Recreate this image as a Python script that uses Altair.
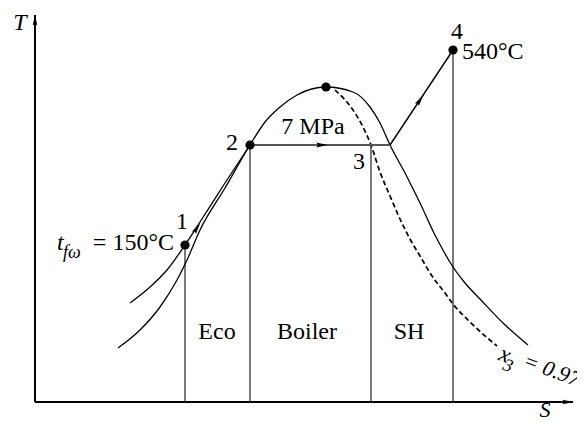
import altair as alt
import pandas as pd

# ---- data (S, T in arbitrary diagram units) ----
dome_S = [83, 105, 125, 142, 152, 165, 190, 215, 230, 245, 262, 291, 318, 335, 345, 355, 370, 385, 400, 418, 430, 445, 468, 493]
dome_T = [54, 72, 95, 122, 142, 172, 214, 257, 280, 295, 307, 315, 310, 295, 279, 257, 229, 199, 167, 135, 119, 103, 79, 57]

liq_S = [95, 115, 132, 150, 165, 190, 215]
liq_T = [99, 115, 132, 157, 180, 219, 257]

x3_S = [300, 318, 328, 336, 345, 355, 365, 375, 385, 397, 410, 418, 435, 462]
x3_T = [312, 292, 275, 257, 230, 206, 183, 163, 146, 126, 109, 98, 80, 56]

iso_S = [215, 355]
iso_T = [257, 257]
sh_S = [355, 418]
sh_T = [257, 352]

vert_S = [150, 215, 336, 418]
vert_top = [157, 257, 257, 352]

state_S = [150, 215, 291, 418]
state_T = [157, 257, 315, 352]

arrow_S = [162, 287, 385]
arrow_T = [174, 257, 302]
arrow_ang = [33, 90, 34]

axis_S = [0, 538]
axis_T = [0, 387]

num_labels = ["1", "2", "3", "4"]
num_S = [147, 197, 324, 422]
num_T = [180, 259, 240, 370]

zone_labels = ["Eco", "Boiler", "SH"]
zone_S = [182, 272, 374]
zone_T = [70, 70, 70]

FONT = "Liberation Serif"
FS = 24
FS_SUB = 18

xs = alt.Scale(domain=[-27, 542], nice=False, zero=False)
ys = alt.Scale(domain=[-16, 394], nice=False, zero=False)


def X(f="S"):
    return alt.X(f"{f}:Q", scale=xs, axis=None)


def Y(f="T"):
    return alt.Y(f"{f}:Q", scale=ys, axis=None)


def line(S, T, **kw):
    df = pd.DataFrame({"S": S, "T": T, "o": range(len(S))})
    return alt.Chart(df).mark_line(**kw).encode(x=X(), y=Y(), order="o:Q")


layers = []

# axes
ax_df = pd.DataFrame({"S": [0, 0], "T": [0, 0], "S2": [axis_S[1], 0], "T2": [0, axis_T[1]]})
layers.append(alt.Chart(ax_df).mark_rule(color="black", strokeWidth=2).encode(
    x=X(), y=Y(), x2="S2:Q", y2="T2:Q"))

arrowhead = "M0,-1L0.42,1L0,0.7L-0.42,1Z"
axarr = pd.DataFrame({"S": [0, axis_S[1] - 5], "T": [axis_T[1] - 5, 0], "a": [0, 90]})
layers.append(alt.Chart(axarr).mark_point(shape=arrowhead, filled=True, color="black",
                                           opacity=1, size=120, strokeWidth=0).encode(
    x=X(), y=Y(), angle=alt.Angle("a:Q", scale=None)))

# vertical lines
vdf = pd.DataFrame({"S": vert_S, "T": [0] * 4, "T2": vert_top})
layers.append(alt.Chart(vdf).mark_rule(color="#222", strokeWidth=1.2).encode(
    x=X(), y=Y(), y2="T2:Q"))

# curves
layers.append(line(dome_S, dome_T, color="black", strokeWidth=1.3, interpolate="monotone"))
layers.append(line(liq_S, liq_T, color="black", strokeWidth=1.3, interpolate="monotone"))
layers.append(line(x3_S, x3_T, color="black", strokeWidth=1.7, strokeDash=[5, 3], interpolate="monotone"))
layers.append(line(iso_S, iso_T, color="#555", strokeWidth=2))
layers.append(line(sh_S, sh_T, color="black", strokeWidth=1.4))

# flow arrows
adf = pd.DataFrame({"S": arrow_S, "T": arrow_T, "a": arrow_ang})
layers.append(alt.Chart(adf).mark_point(shape=arrowhead, filled=True, color="black",
                                         opacity=1, size=130, strokeWidth=0).encode(
    x=X(), y=Y(), angle=alt.Angle("a:Q", scale=None)))

# state points
pdf = pd.DataFrame({"S": state_S, "T": state_T})
layers.append(alt.Chart(pdf).mark_circle(color="black", opacity=1, size=85).encode(x=X(), y=Y()))


def text(df, **kw):
    base = dict(font=FONT, fontSize=FS, color="black", baseline="middle")
    base.update(kw)
    return alt.Chart(df).mark_text(**base).encode(x=X(), y=Y(), text="label:N")


layers.append(text(pd.DataFrame({"label": num_labels, "S": num_S, "T": num_T})))
layers.append(text(pd.DataFrame({"label": zone_labels, "S": zone_S, "T": zone_T})))
layers.append(text(pd.DataFrame({"label": ["7 MPa"], "S": [278], "T": [275]})))
layers.append(text(pd.DataFrame({"label": ["540°C"], "S": [427], "T": [350]}), align="left"))
layers.append(text(pd.DataFrame({"label": ["= 150°C"], "S": [139], "T": [159]}), align="right"))
layers.append(text(pd.DataFrame({"label": ["t"], "S": [22], "T": [159]}), fontStyle="italic", align="left"))
layers.append(text(pd.DataFrame({"label": ["fω"], "S": [28], "T": [149]}), fontStyle="italic",
                   fontSize=FS_SUB, align="left"))
layers.append(text(pd.DataFrame({"label": ["T"], "S": [-15], "T": [379]}), fontStyle="italic"))
layers.append(text(pd.DataFrame({"label": ["S"], "S": [510], "T": [-8]}), fontStyle="italic", fontSize=22))
layers.append(text(pd.DataFrame({"label": ["x"], "S": [470], "T": [47]}), fontStyle="italic", angle=20))
layers.append(text(pd.DataFrame({"label": ["3"], "S": [473], "T": [36]}), fontStyle="italic", angle=20,
                   fontSize=FS_SUB))
layers.append(text(pd.DataFrame({"label": ["= 0.97"], "S": [517], "T": [32]}), fontStyle="italic",
                   angle=20, fontSize=22))

chart = alt.layer(*layers).properties(
    width=569, height=410, padding=0,
    autosize=alt.AutoSizeParams(type="none"),
).configure_view(stroke=None)

chart.save("out.html", embed_options={"renderer": "svg", "actions": False})
